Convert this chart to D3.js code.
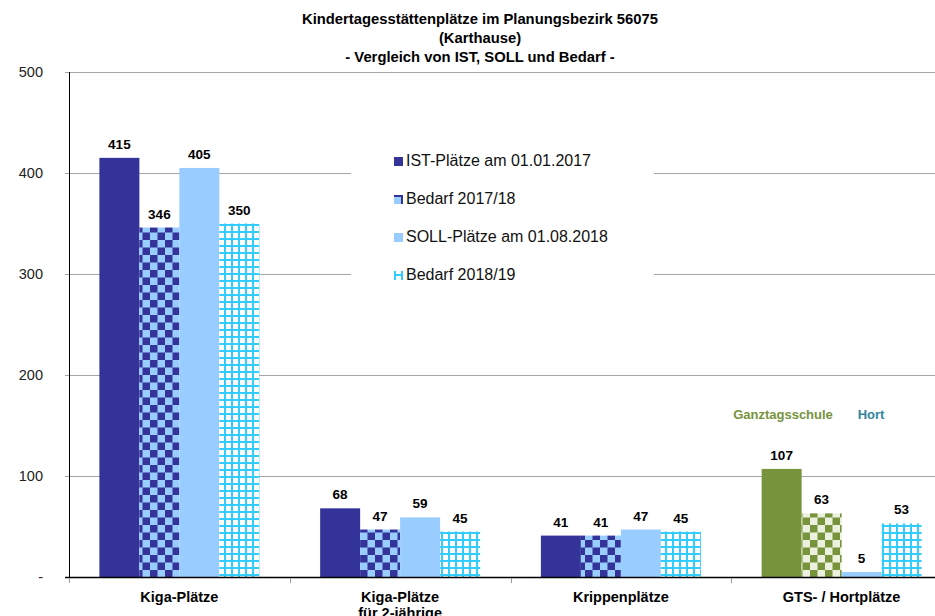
<!DOCTYPE html>
<html>
<head>
<meta charset="utf-8">
<script src="https://cdn.jsdelivr.net/npm/d3@7"></script>
<style>
  body { margin: 0; background: #fff; }
  svg { display: block; font-family: "Liberation Sans", Arial, sans-serif; }
  .title { font-size: 14.8px; font-weight: bold; }
  .ytick { font-size: 14.5px; fill: #222; }
  .cat { font-size: 14.5px; font-weight: bold; }
  .val { font-size: 13.5px; font-weight: bold; }
  .sub { font-size: 13px; font-weight: bold; }
  .legend-label { font-size: 16px; fill: #111; }
</style>
</head>
<body>
<div id="chart"></div>
<script>
const categories = ["Kiga-Plätze", "Kiga-Plätze|für 2-jährige", "Krippenplätze", "GTS- / Hortplätze"]
const series = ["IST-Plätze am 01.01.2017", "Bedarf 2017/18", "SOLL-Plätze am 01.08.2018", "Bedarf 2018/19"]
const ist2017 = [415, 68, 41, 107]
const bedarf1718 = [346, 47, 41, 63]
const soll2018 = [405, 59, 47, 5]
const bedarf1819 = [350, 45, 45, 53]
const yTicks = [0, 100, 200, 300, 400, 500]
const titleLines = ["Kindertagesstättenplätze im Planungsbezirk 56075", "(Karthause)", "- Vergleich von IST, SOLL und Bedarf -"]

const w = 935, h = 616
const values = [ist2017, bedarf1718, soll2018, bedarf1819]

let svg = d3.select("#chart").append("svg")
  .attr("width", w)
  .attr("height", h)

// patterns
let defs = svg.append("defs")
function checker(id, light, dark) {
  let p = defs.append("pattern").attr("id", id)
    .attr("patternUnits", "userSpaceOnUse")
    .attr("width", 15).attr("height", 15)
  p.append("rect").attr("width", 15).attr("height", 15).attr("fill", light)
  p.append("rect").attr("width", 7.5).attr("height", 7.5).attr("fill", dark)
  p.append("rect").attr("x", 7.5).attr("y", 7.5).attr("width", 7.5).attr("height", 7.5).attr("fill", dark)
}
checker("chkBlue", "#99ccff", "#333399")
checker("chkGreen", "#ebf1de", "#77933c")

let grid = defs.append("pattern").attr("id", "gridCyan")
  .attr("patternUnits", "userSpaceOnUse")
  .attr("width", 7).attr("height", 7)
grid.append("rect").attr("width", 7).attr("height", 7).attr("fill", "#fff")
grid.append("rect").attr("width", 2).attr("height", 7).attr("fill", "#33ccff")
grid.append("rect").attr("width", 7).attr("height", 2).attr("fill", "#33ccff")

// scales
let x0 = d3.scaleBand().domain(categories).range([69, 952])
let x1 = d3.scaleBand().domain(series).range([0, x0.bandwidth()])
  .paddingInner(0).paddingOuter(0.76)
let y = d3.scaleLinear().domain([0, 500]).range([577, 72])

function fillFor(si, ci) {
  if (ci === 3 && si === 0) return "#77933c"
  if (ci === 3 && si === 1) return "url(#chkGreen)"
  return ["#333399", "url(#chkBlue)", "#99ccff", "url(#gridCyan)"][si]
}

// gridlines
svg.append("g")
  .selectAll("line")
  .data(yTicks.filter(d => d > 0))
  .enter()
  .append("line")
  .attr("x1", 65).attr("x2", w)
  .attr("y1", d => y(d) + 0.5).attr("y2", d => y(d) + 0.5)
  .attr("stroke", "#a6a6a6")

// y labels
svg.append("g")
  .selectAll("text")
  .data(yTicks)
  .enter()
  .append("text")
  .attr("class", "ytick")
  .attr("x", 43)
  .attr("y", d => y(d) + 5)
  .attr("text-anchor", "end")
  .text(d => d === 0 ? "-" : d)

// bars
let rows = []
categories.forEach((c, ci) => series.forEach((s, si) => rows.push({ c, ci, s, si, v: values[si][ci] })))

svg.append("g")
  .selectAll("rect")
  .data(rows)
  .enter()
  .append("rect")
  .attr("x", d => x0(d.c) + x1(d.s))
  .attr("y", d => y(d.v))
  .attr("width", x1.bandwidth())
  .attr("height", d => y(0) - y(d.v))
  .attr("fill", d => fillFor(d.si, d.ci))

svg.append("g")
  .selectAll("text")
  .data(rows)
  .enter()
  .append("text")
  .attr("class", "val")
  .attr("x", d => x0(d.c) + x1(d.s) + x1.bandwidth() / 2)
  .attr("y", d => y(d.v) - 9)
  .attr("text-anchor", "middle")
  .text(d => d.v)

// axes lines
svg.append("line")
  .attr("x1", 69.5).attr("x2", 69.5).attr("y1", 72).attr("y2", 578)
  .attr("stroke", "#000")
svg.append("line")
  .attr("x1", 65).attr("x2", w).attr("y1", 577.5).attr("y2", 577.5)
  .attr("stroke", "#000").attr("stroke-width", 1.5)

svg.append("g")
  .selectAll("line")
  .data(categories)
  .enter()
  .append("line")
  .attr("x1", d => Math.round(x0(d)) + 0.5).attr("x2", d => Math.round(x0(d)) + 0.5)
  .attr("y1", 578).attr("y2", 583)
  .attr("stroke", "#999")

// category labels
categories.forEach(c => {
  let t = svg.append("text")
    .attr("class", "cat")
    .attr("text-anchor", "middle")
    .attr("x", x0(c) + x0.bandwidth() / 2)
    .attr("y", 602)
  c.split("|").forEach((line, i) => {
    t.append("tspan")
      .attr("x", x0(c) + x0.bandwidth() / 2)
      .attr("dy", i === 0 ? 0 : 16)
      .text(line)
  })
})

// GTS sub labels
svg.append("text").attr("class", "sub")
  .attr("x", 783).attr("y", 419).attr("text-anchor", "middle")
  .attr("fill", "#77933c").text("Ganztagsschule")
svg.append("text").attr("class", "sub")
  .attr("x", 871).attr("y", 419).attr("text-anchor", "middle")
  .attr("fill", "#31859c").text("Hort")

// title
svg.append("text")
  .attr("class", "title")
  .attr("text-anchor", "middle")
  .selectAll("tspan")
  .data(titleLines)
  .enter()
  .append("tspan")
  .attr("x", 480)
  .attr("y", (d, i) => 24 + i * 19)
  .text(d => d)

// legend
let legend = svg.append("g")
legend.append("rect")
  .attr("x", 351).attr("y", 140).attr("width", 303).attr("height", 152)
  .attr("fill", "#fff")

let ly = [161, 199, 237, 275]
series.forEach((s, i) => {
  let g = legend.append("g").attr("transform", `translate(394,${ly[i] - 4})`)
  if (i === 0) {
    g.append("rect").attr("width", 9).attr("height", 9).attr("fill", "#333399")
  } else if (i === 1) {
    g.append("rect").attr("width", 9).attr("height", 9).attr("fill", "#99ccff")
    g.append("rect").attr("width", 9).attr("height", 2).attr("fill", "#333399")
    g.append("rect").attr("x", 7).attr("width", 2).attr("height", 9).attr("fill", "#333399")
  } else if (i === 2) {
    g.append("rect").attr("width", 9).attr("height", 9).attr("fill", "#99ccff")
  } else {
    g.append("rect").attr("width", 2).attr("height", 9).attr("fill", "#33ccff")
    g.append("rect").attr("x", 7).attr("width", 2).attr("height", 9).attr("fill", "#33ccff")
    g.append("rect").attr("y", 3).attr("width", 9).attr("height", 2).attr("fill", "#33ccff")
  }
  legend.append("text")
    .attr("class", "legend-label")
    .attr("x", 406)
    .attr("y", ly[i] + 5)
    .text(s)
})
</script>
</body>
</html>
